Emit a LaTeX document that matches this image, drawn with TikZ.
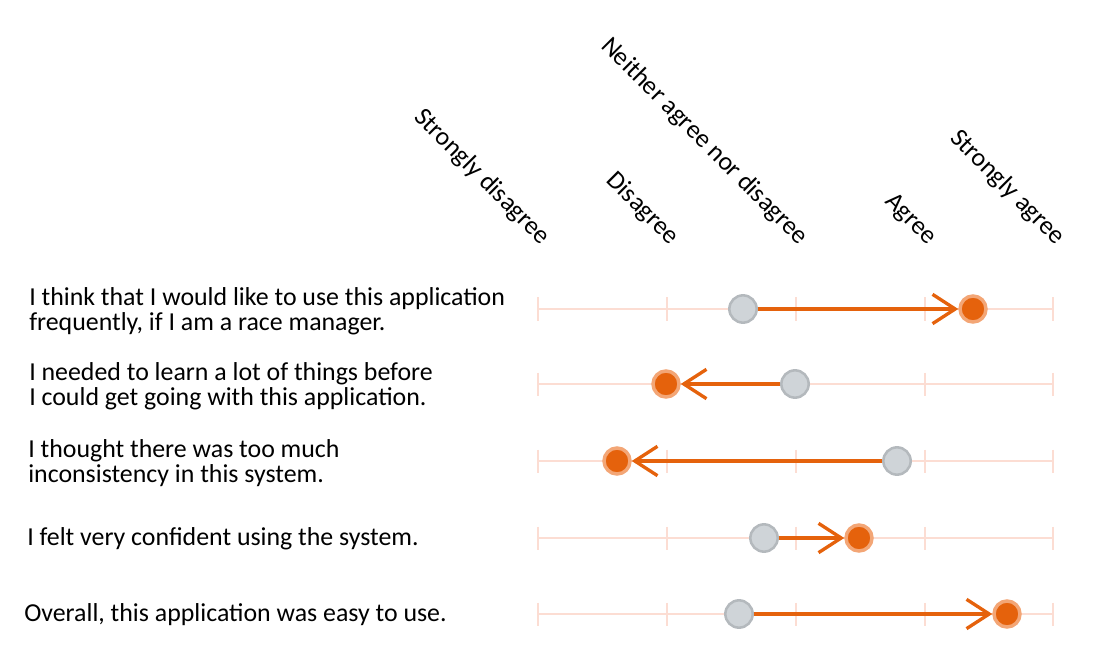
\documentclass[tikz,border=0pt]{standalone}
\usepackage{fontspec}
\setmainfont{Carlito}
\usetikzlibrary{arrows.meta,positioning}
\definecolor{dotorange}{HTML}{E5620C}
\definecolor{ringorange}{HTML}{F3A676}
\definecolor{dotgrey}{HTML}{CFD4D8}
\definecolor{ringgrey}{HTML}{B4B9BD}
\definecolor{axispink}{HTML}{FCDDD3}

\begin{document}
\begin{tikzpicture}[x=0.75pt, y=-0.75pt,
    scalelabel/.style={rotate=-45, anchor=base east, inner sep=0pt, text=black, font=\fontsize{19.4}{19.4}\selectfont},
    itemlabel/.style={anchor=west, align=left, inner sep=0pt, text=black, font=\fontsize{19.4}{18.9}\selectfont},
    axisline/.style={draw=axispink, line width=2.2pt},
    beforedot/.style={circle, minimum size=20.5pt, inner sep=0pt, fill=dotgrey, draw=ringgrey, line width=1.9pt},
    afterdot/.style={circle, minimum size=19.5pt, inner sep=0pt, fill=dotorange, draw=ringorange, line width=2.6pt},
    shiftarrow/.style={draw=dotorange, line width=2.5pt, -{Straight Barb[length=17pt, width=22pt, line width=2.5pt]}}]
    \useasboundingbox (0,0) rectangle (1098,666);

    \node (StronglyDisagree) [scalelabel] at (541,246) {Strongly disagree};
    \node (Disagree) [scalelabel] at (670,246) {Disagree};
    \node (Neither) [scalelabel] at (799,246) {Neither agree nor disagree};
    \node (Agree) [scalelabel] at (928,246) {Agree};
    \node (StronglyAgree) [scalelabel] at (1056,246) {Strongly agree};

    \foreach \y in {309,384,461,538,614} {
        \draw[axisline] (538,\y) -- (1053,\y);
        \foreach \x in {538,667,796,925,1053}
            \draw[axisline] (\x,\y-11.5) -- (\x,\y+11.5);
    }

    \node (Item1) [itemlabel] at (29,311) {I think that I would like to use this application\\frequently, if I am a race manager.};
    \node (Item2) [itemlabel] at (29,386) {I needed to learn a lot of things before\\I could get going with this application.};
    \node (Item3) [itemlabel] at (28,463) {I thought there was too much\\inconsistency in this system.};
    \node (Item4) [itemlabel] at (27,539) {I felt very confident using the system.};
    \node (Item5) [itemlabel] at (24,615) {Overall, this application was easy to use.};

    \node (Before1) [beforedot] at (743,309) {};
    \node (After1) [afterdot] at (973,309) {};
    \draw[shiftarrow] (Before1) -- (After1);

    \node (Before2) [beforedot] at (795,384) {};
    \node (After2) [afterdot] at (666,384) {};
    \draw[shiftarrow] (Before2) -- (After2);

    \node (Before3) [beforedot] at (897,461) {};
    \node (After3) [afterdot] at (617,461) {};
    \draw[shiftarrow] (Before3) -- (After3);

    \node (Before4) [beforedot] at (764,538) {};
    \node (After4) [afterdot] at (859,538) {};
    \draw[shiftarrow] (Before4) -- (After4);

    \node (Before5) [beforedot] at (739,614) {};
    \node (After5) [afterdot] at (1007,614) {};
    \draw[shiftarrow] (Before5) -- (After5);
\end{tikzpicture}
\end{document}
